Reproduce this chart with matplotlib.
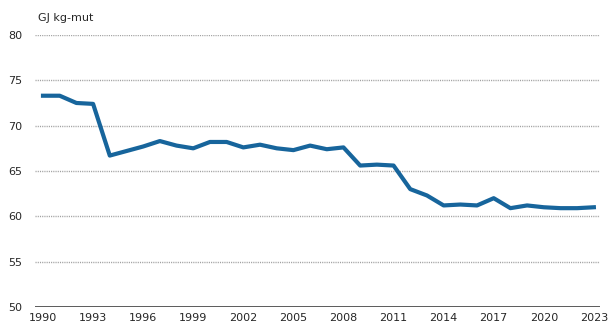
import matplotlib
matplotlib.use('Agg')
import matplotlib.pyplot as plt

# energy use per kg of product, 1990-2023
years = list(range(1990, 2024))
gj_per_kg = [73.3, 73.3, 72.5, 72.4, 66.7, 67.2, 67.7, 68.3, 67.8, 67.5,
             68.2, 68.2, 67.6, 67.9, 67.5, 67.3, 67.8, 67.4, 67.6, 65.6,
             65.7, 65.6, 63.0, 62.3, 61.2, 61.3, 61.2, 62.0, 60.9, 61.2,
             61.0, 60.9, 60.9, 61.0]
xtick_years = [1990, 1993, 1996, 1999, 2002, 2005, 2008, 2011, 2014, 2017, 2020, 2023]
yticks = [50, 55, 60, 65, 70, 75, 80]

fig = plt.figure(figsize=(6.14, 3.35), dpi=100)
ax = fig.add_axes([0.057, 0.0836, 0.92, 0.812])

for y in yticks[1:]:
    ax.axhline(y, color='#a0a0a0', lw=1.0, ls=(0, (0.8, 0.8)), zorder=1)
ax.axhline(50, color='#404040', lw=1.2, zorder=2)

ax.plot(years, gj_per_kg, color='#17659c', lw=3.0, solid_joinstyle='round', zorder=3)

ax.set_xlim(1989.52, 2023.36)
ax.set_ylim(50, 80)
ax.set_xticks(xtick_years)
ax.set_yticks(yticks)
ax.tick_params(length=0, labelsize=8, colors='#262626', pad=4)
ax.tick_params(axis='y', pad=9)
for s in ax.spines.values():
    s.set_visible(False)

fig.text(0.062, 0.945, 'GJ kg-mut', fontsize=8, color='#262626', va='center')

fig.savefig('out.png', dpi=100)
